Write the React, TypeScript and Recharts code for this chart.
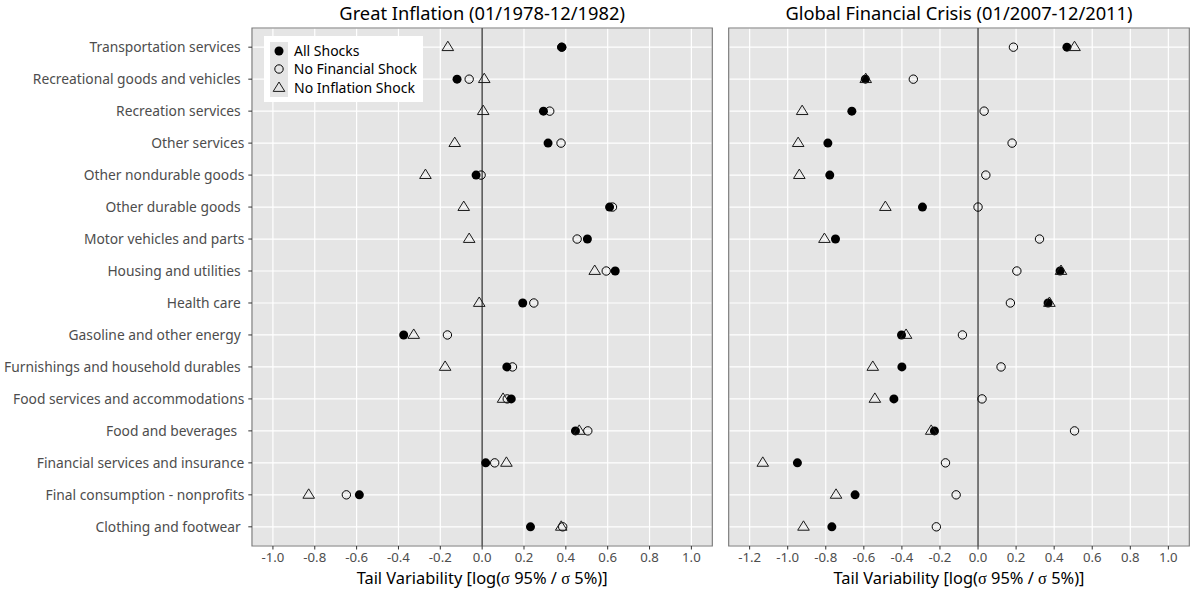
import React from 'react'
import {
  ScatterChart,
  Scatter,
  XAxis,
  YAxis,
  CartesianGrid,
  ReferenceLine,
  ReferenceArea,
  Legend,
} from 'recharts'

// PCE categories, top to bottom (trailing spaces kept as in the source labels)
const categories = [
  'Transportation services ',
  'Recreational goods and vehicles ',
  'Recreation services ',
  'Other services',
  'Other nondurable goods',
  'Other durable goods ',
  'Motor vehicles and parts',
  'Housing and utilities ',
  'Health care ',
  'Gasoline and other energy ',
  'Furnishings and household durables ',
  'Food services and accommodations',
  'Food and beverages  ',
  'Financial services and insurance',
  'Final consumption - nonprofits',
  'Clothing and footwear ',
]

// Great Inflation (01/1978-12/1982)
const giAllShocks = [0.381, -0.12, 0.293, 0.315, -0.029, 0.609, 0.503, 0.636, 0.194, -0.375, 0.118, 0.139, 0.446, 0.017, -0.587, 0.231]
const giNoFinancial = [0.38, -0.062, 0.323, 0.377, -0.005, 0.623, 0.454, 0.593, 0.247, -0.166, 0.145, 0.12, 0.505, 0.06, -0.649, 0.385]
const giNoInflation = [-0.164, 0.01, 0.005, -0.131, -0.271, -0.088, -0.062, 0.538, -0.014, -0.327, -0.177, 0.1, 0.464, 0.116, -0.829, 0.378]

// Global Financial Crisis (01/2007-12/2011)
const gfcAllShocks = [0.467, -0.592, -0.663, -0.789, -0.779, -0.292, -0.749, 0.431, 0.368, -0.402, -0.4, -0.442, -0.229, -0.949, -0.646, -0.768]
const gfcNoFinancial = [0.186, -0.34, 0.032, 0.179, 0.041, 0.0, 0.323, 0.204, 0.17, -0.082, 0.121, 0.021, 0.507, -0.171, -0.115, -0.219]
const gfcNoInflation = [0.507, -0.59, -0.924, -0.945, -0.939, -0.487, -0.807, 0.436, 0.375, -0.378, -0.553, -0.542, -0.246, -1.131, -0.746, -0.917]

const giTicks = [-1.0, -0.8, -0.6, -0.4, -0.2, 0.0, 0.2, 0.4, 0.6, 0.8, 1.0]
const gfcTicks = [-1.2, -1.0, -0.8, -0.6, -0.4, -0.2, 0.0, 0.2, 0.4, 0.6, 0.8, 1.0]

const seriesNames = ['All Shocks', 'No Financial Shock', 'No Inflation Shock']

const FONT = '"Noto Sans", sans-serif'
const PANEL_BG = '#e5e5e5'
const TEXT_GREY = '#4d4d4d'

const rowTicks = categories.map((_, i) => i)

const toPoints = (values: number[]) => values.map((x, i) => ({ x, y: i }))

const FilledDot = ({ cx, cy }: any) => <circle cx={cx} cy={cy} r={4.5} fill="#000" />
const OpenDot = ({ cx, cy }: any) => (
  <circle cx={cx} cy={cy} r={4.2} fill="none" stroke="#000" strokeWidth={1} />
)
const OpenTriangle = ({ cx, cy }: any) => (
  <polygon
    points={`${cx},${cy - 6} ${cx + 5.8},${cy + 3.4} ${cx - 5.8},${cy + 3.4}`}
    fill="none"
    stroke="#1a1a1a"
    strokeWidth={1}
  />
)

const CategoryTick = ({ x, y, payload }: any) => (
  <text
    x={x}
    y={y}
    dy="0.36em"
    textAnchor="end"
    fill={TEXT_GREY}
    fontSize={13.8}
    fontFamily={FONT}
    xmlSpace="preserve"
    style={{ whiteSpace: 'pre' }}
  >
    {categories[payload.value]}
  </text>
)

const legendIcons = [
  <circle key="a" cx={9} cy={9} r={4.5} fill="#000" />,
  <circle key="b" cx={9} cy={9} r={4.2} fill="none" stroke="#000" strokeWidth={1} />,
  <polygon key="c" points="9,3 14.8,12.4 3.2,12.4" fill="none" stroke="#1a1a1a" strokeWidth={1} />,
]

const ShockLegend = () => (
  <div
    style={{
      background: '#fff',
      width: 159,
      height: 66,
      boxSizing: 'border-box',
      padding: '6px 6px 4px',
      fontFamily: FONT,
      fontSize: 14,
      color: '#000',
    }}
  >
    {seriesNames.map((name, i) => (
      <div key={name} style={{ display: 'flex', alignItems: 'center', height: 18.3 }}>
        <svg width={18} height={18.3} style={{ background: PANEL_BG, display: 'block' }}>
          {legendIcons[i]}
        </svg>
        <span style={{ marginLeft: 6, lineHeight: '18px', whiteSpace: 'nowrap' }}>{name}</span>
      </div>
    ))}
  </div>
)

interface PanelProps {
  title: string
  all: number[]
  noFin: number[]
  noInfl: number[]
  ticks: number[]
  domain: [number, number]
  left: number
  width: number
  margin: { top: number; right: number; bottom: number; left: number }
  showCategories?: boolean
  showLegend?: boolean
}

function Panel({ title, all, noFin, noInfl, ticks, domain, left, width, margin, showCategories, showLegend }: PanelProps) {
  const yAxisWidth = showCategories ? 252 : 0
  const plotLeft = margin.left + yAxisWidth
  const plotWidth = width - plotLeft - margin.right
  const centre = left + plotLeft + plotWidth / 2

  return (
    <>
      <div
        style={{
          position: 'absolute',
          left: centre - 250,
          width: 500,
          top: 1,
          textAlign: 'center',
          fontFamily: FONT,
          fontSize: 18.3,
          lineHeight: '24px',
          color: '#000',
        }}
      >
        {title}
      </div>
      <div style={{ position: 'absolute', left, top: 0 }}>
        <ScatterChart width={width} height={591} margin={margin}>
          <CartesianGrid fill={PANEL_BG} stroke="#fff" strokeWidth={1.2} />
          <XAxis
            type="number"
            dataKey="x"
            domain={domain}
            ticks={ticks}
            allowDataOverflow
            tickFormatter={(v: number) => v.toFixed(1)}
            axisLine={false}
            tickLine={{ stroke: '#333', strokeWidth: 1 }}
            tickSize={3.5}
            tickMargin={3}
            height={30}
            interval={0}
            tick={{ fontSize: 13.2, fill: TEXT_GREY, fontFamily: FONT }}
          />
          <YAxis
            type="number"
            dataKey="y"
            domain={[-0.6, 15.6]}
            ticks={rowTicks}
            reversed
            allowDataOverflow
            interval={0}
            hide={!showCategories}
            width={yAxisWidth}
            axisLine={false}
            tickLine={{ stroke: '#333', strokeWidth: 1 }}
            tickSize={3.7}
            tickMargin={4}
            tick={<CategoryTick />}
          />
          <ReferenceLine x={0} stroke="#595959" strokeWidth={1.6} />
          <Scatter name={seriesNames[0]} data={toPoints(all)} shape={FilledDot} isAnimationActive={false} />
          <Scatter name={seriesNames[1]} data={toPoints(noFin)} shape={OpenDot} isAnimationActive={false} />
          <Scatter name={seriesNames[2]} data={toPoints(noInfl)} shape={OpenTriangle} isAnimationActive={false} />
          <ReferenceArea
            x1={domain[0]}
            x2={domain[1]}
            y1={-0.6}
            y2={15.6}
            fill="none"
            fillOpacity={0}
            stroke="#7a7a7a"
            strokeWidth={1.2}
          />
          {showLegend && (
            <Legend
              layout="vertical"
              align="center"
              verticalAlign="middle"
              content={() => <ShockLegend />}
              wrapperStyle={{ position: 'absolute', left: 264, top: 36, width: 159 }}
            />
          )}
        </ScatterChart>
      </div>
      <div
        style={{
          position: 'absolute',
          left: centre - 250,
          width: 500,
          top: 569,
          textAlign: 'center',
          fontFamily: FONT,
          fontSize: 16.4,
          lineHeight: '17px',
          color: '#000',
        }}
      >
        Tail Variability [log(<span style={{ fontFamily: '"Liberation Serif", serif' }}>σ</span> 95% /{' '}
        <span style={{ fontFamily: '"Liberation Serif", serif' }}>σ</span> 5%)]
      </div>
    </>
  )
}

export default function App() {
  return (
    <div style={{ position: 'absolute', left: 0, top: 0, width: 1192, height: 591, background: '#fff', overflow: 'hidden' }}>
      <Panel
        title="Great Inflation (01/1978-12/1982)"
        all={giAllShocks}
        noFin={giNoFinancial}
        noInfl={giNoInflation}
        ticks={giTicks}
        domain={[-1.1, 1.1]}
        left={0}
        width={720}
        margin={{ top: 28, right: 7.7, bottom: 15, left: 0 }}
        showCategories
        showLegend
      />
      <Panel
        title="Global Financial Crisis (01/2007-12/2011)"
        all={gfcAllShocks}
        noFin={gfcNoFinancial}
        noInfl={gfcNoInflation}
        ticks={gfcTicks}
        domain={[-1.31, 1.11]}
        left={720}
        width={472}
        margin={{ top: 28, right: 2.7, bottom: 15, left: 8.7 }}
      />
    </div>
  )
}
